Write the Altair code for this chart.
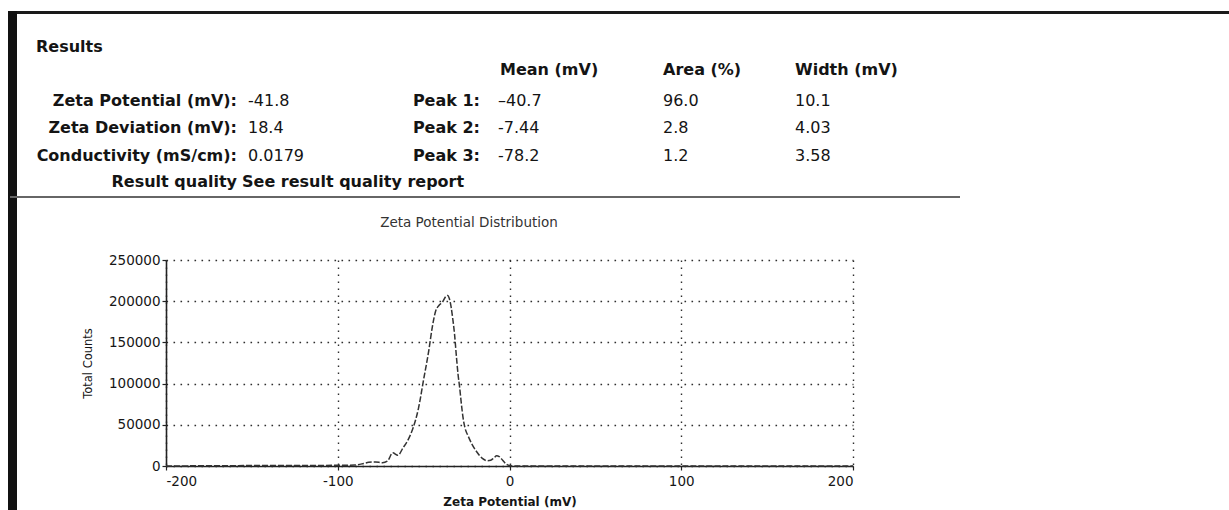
import altair as alt
import pandas as pd

# ---- Zeta potential distribution trace -------------------------------------
zeta_mv = [-200, -150, -100, -90, -85, -82, -78, -74, -71, -68, -65, -62, -59,
           -56, -53, -50, -47, -45, -43, -41, -39, -37, -36, -35, -34, -33,
           -32, -31, -30, -29, -28, -27, -26, -24, -22, -19, -16, -13, -11,
           -9, -7.5, -6, -4, -2, 0, 2, 50, 100, 150, 200]
total_counts = [0, 500, 800, 1200, 3000, 4500, 5000, 4000, 6000, 16000, 13000,
                22000, 32000, 47000, 70000, 105000, 140000, 168000, 188000,
                195000, 199000, 206000, 207000, 203000, 193000, 178000, 160000,
                135000, 112000, 95000, 75000, 58000, 47000, 36000, 27000, 17000,
                9500, 6500, 7000, 10000, 12500, 11500, 7000, 2500, 500, 0, 0, 0,
                0, 0]

x_ticks = [-200, -100, 0, 100, 200]
y_ticks = [0, 50000, 100000, 150000, 200000, 250000]

# ---- Results table ---------------------------------------------------------
summary_labels = ["Zeta Potential (mV):", "Zeta Deviation (mV):", "Conductivity (mS/cm):"]
summary_values = ["-41.8", "18.4", "0.0179"]
peak_labels = ["Peak 1:", "Peak 2:", "Peak 3:"]
peak_mean = ["\u201340.7", "-7.44", "-78.2"]
peak_area = ["96.0", "2.8", "1.2"]
peak_width = ["10.1", "4.03", "3.58"]
column_headers = ["Mean (mV)", "Area (%)", "Width (mV)"]
quality_label = "Result quality"
quality_text = "See result quality report"

# ---- Layout (page pixels) --------------------------------------------------
PAGE_W, PAGE_H = 1229, 510
LEFT, TOP = 166, 260          # plot origin on the page
W, H = 687, 206               # plot area
FONT = "DejaVu Sans"

row_y = [101, 128, 156]
header_y = 70
quality_y = 182
col_label_right = 237
col_value_left = 248
col_peak_right = 480
col_left = [498, 663, 795]


def cell(text, x, y):
    return {"text": text, "px": x - LEFT, "py": y - TOP}


bold_right, bold_left, plain_left = [], [], []
bold_left.append(cell("Results", 36, 47))
for i, h in enumerate(column_headers):
    bold_left.append(cell(h, col_left[i] + (2 if i == 0 else 0), header_y))
for r in range(3):
    bold_right.append(cell(summary_labels[r], col_label_right, row_y[r]))
    plain_left.append(cell(summary_values[r], col_value_left, row_y[r]))
    bold_right.append(cell(peak_labels[r], col_peak_right, row_y[r]))
    plain_left.append(cell(peak_mean[r], col_left[0], row_y[r]))
    plain_left.append(cell(peak_area[r], col_left[1], row_y[r]))
    plain_left.append(cell(peak_width[r], col_left[2], row_y[r]))
bold_right.append(cell(quality_label, col_label_right, quality_y))
bold_left.append(cell(quality_text, 242, quality_y))

pos = dict(x=alt.X("px:Q", scale=None), y=alt.Y("py:Q", scale=None), text="text:N")


def table_layer(rows, align, weight, size=16):
    return alt.Chart(pd.DataFrame(rows)).mark_text(
        align=align, baseline="middle", font=FONT, fontSize=size,
        fontWeight=weight, color="#141414"
    ).encode(**pos)


# ---- Page frame: top edge, left edge, separator ----------------------------
frame = pd.DataFrame([
    {"x1": 8 - LEFT, "x2": PAGE_W - LEFT, "y1": 11 - TOP, "y2": 14 - TOP, "c": "#1a1a1a"},
    {"x1": 8 - LEFT, "x2": 17 - LEFT, "y1": 11 - TOP, "y2": PAGE_H - TOP, "c": "#111111"},
    {"x1": 10 - LEFT, "x2": 960 - LEFT, "y1": 196 - TOP, "y2": 198 - TOP, "c": "#666666"},
])
frame_layer = alt.Chart(frame).mark_rect().encode(
    x=alt.X("x1:Q", scale=None), x2="x2:Q",
    y=alt.Y("y1:Q", scale=None), y2="y2:Q",
    color=alt.Color("c:N", scale=None),
)

# ---- Distribution plot -----------------------------------------------------
trace = pd.DataFrame({"zeta": zeta_mv, "counts": total_counts})

# plain hyphen for negative tick labels
hyphen_label = "datum.value < 0 ? '-' + format(-datum.value, 'd') : format(datum.value, 'd')"

curve = alt.Chart(trace).mark_line(
    color="#333333", strokeWidth=1.5, strokeDash=[6, 2], interpolate="monotone"
).encode(
    x=alt.X("zeta:Q", scale=alt.Scale(domain=[-200, 200], nice=False),
            axis=alt.Axis(values=x_ticks, title="Zeta Potential (mV)",
                          titlePadding=9, labelPadding=4, labelExpr=hyphen_label)),
    y=alt.Y("counts:Q", scale=alt.Scale(domain=[0, 250000], nice=False),
            axis=alt.Axis(values=y_ticks, title="Total Counts",
                          titlePadding=15, labelPadding=2, labelExpr=hyphen_label)),
)

plot_title = alt.Chart(pd.DataFrame({"t": ["Zeta Potential Distribution"]})).mark_text(
    align="center", baseline="middle", font=FONT, fontSize=13.5, color="#333333"
).encode(x=alt.value(469 - LEFT), y=alt.value(223 - TOP), text="t:N")

chart = alt.layer(
    frame_layer,
    table_layer(bold_left + [], "left", "bold"),
    table_layer(bold_right, "right", "bold"),
    table_layer(plain_left, "left", "normal"),
    plot_title,
    curve,
).properties(
    width=W, height=H,
    padding={"left": LEFT, "top": TOP, "right": PAGE_W - LEFT - W, "bottom": PAGE_H - TOP - H},
    autosize=alt.AutoSizeParams(type="none"),
    background="white",
).configure_view(stroke=None).configure_axis(
    labelFont=FONT, labelFontSize=13.5, labelColor="#161616",
    titleFont=FONT, titleColor="#161616",
    tickSize=4, tickColor="#222222", tickWidth=1.2,
    domainColor="#222222", domainWidth=1.6,
    grid=True, gridColor="#2e2e2e", gridDash=[1.6, 5.4], gridWidth=1.4,
).configure_axisX(
    titleFontSize=12, titleFontWeight="bold",
).configure_axisY(
    titleFontSize=11.5, titleFontWeight="normal",
)

chart.save("out.html", embed_options={"renderer": "svg", "actions": False})
